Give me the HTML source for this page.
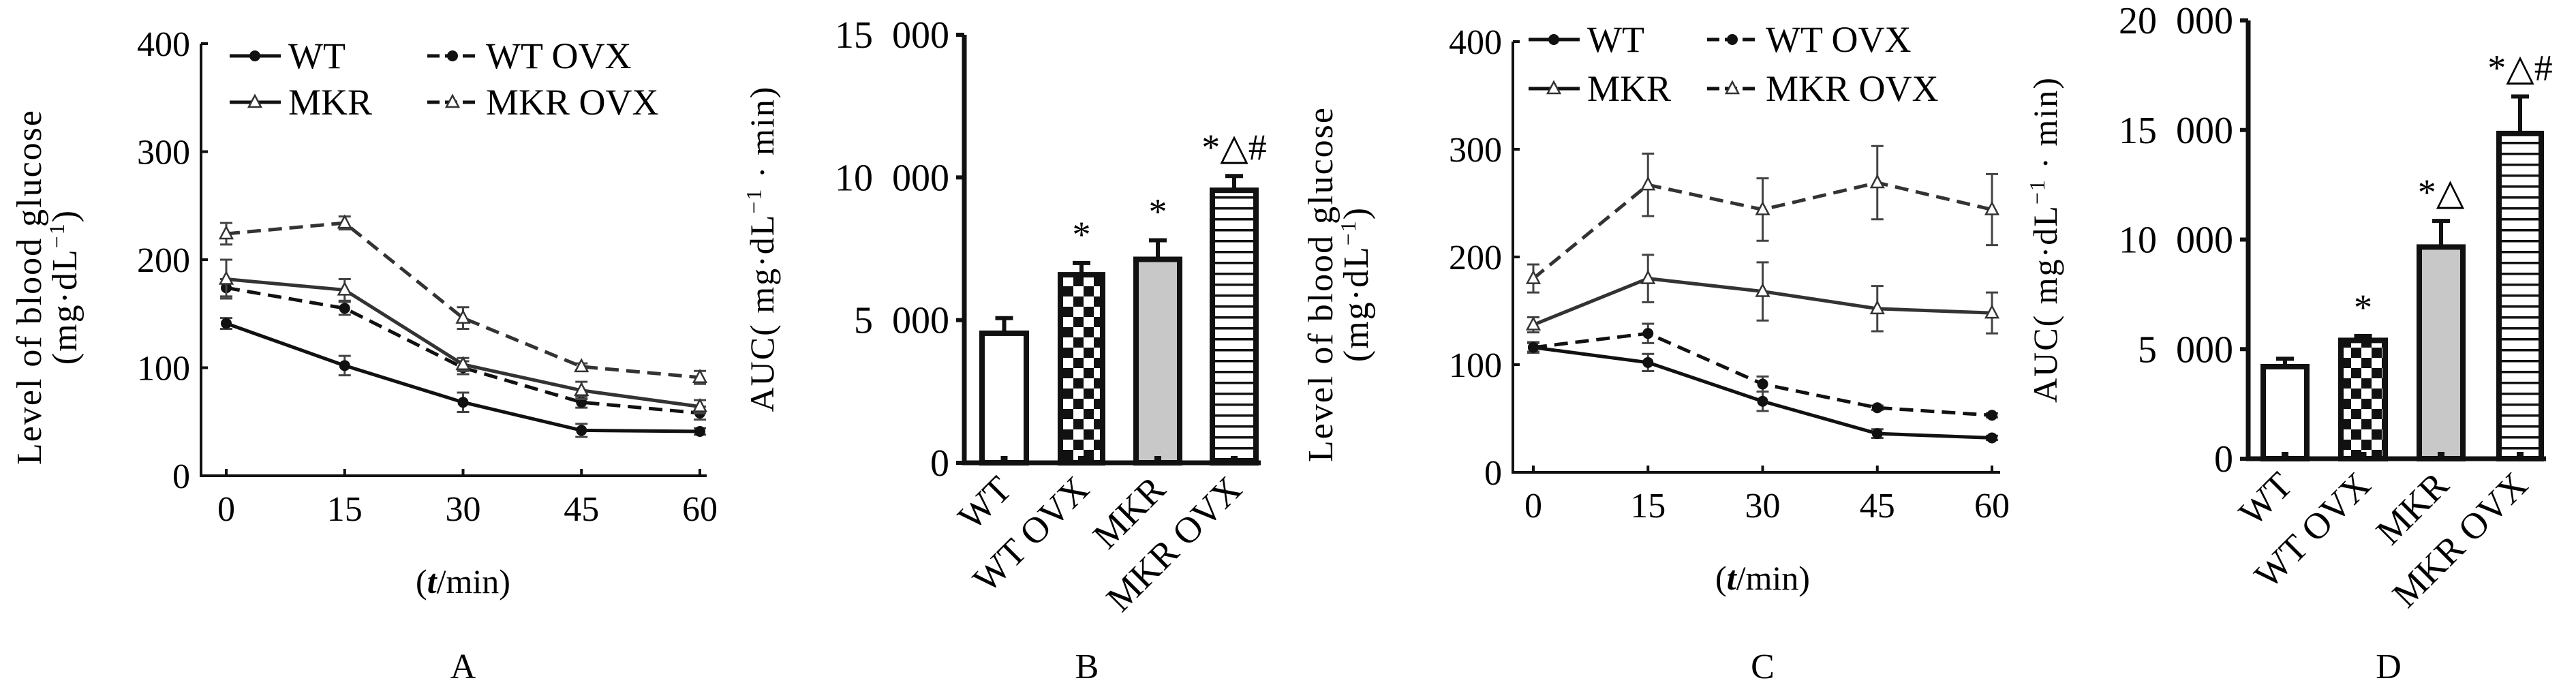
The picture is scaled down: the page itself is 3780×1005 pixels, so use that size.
<!DOCTYPE html>
<html><head><meta charset="utf-8"><style>
html,body{margin:0;padding:0;background:#fff;}
svg{display:block;font-family:"Liberation Serif",serif;}
</style></head><body>
<svg id="fig" width="3780" height="1005" viewBox="0 0 3780 1005" xmlns="http://www.w3.org/2000/svg">
<defs>
<pattern id="checker" width="30" height="30" patternUnits="userSpaceOnUse"><rect width="30" height="30" fill="#fff"/><rect width="15" height="15" fill="#111"/><rect x="15" y="15" width="15" height="15" fill="#111"/></pattern>
<pattern id="stripes" width="16" height="16" patternUnits="userSpaceOnUse"><rect width="16" height="16" fill="#fff"/><rect y="0" width="16" height="3.5" fill="#111"/></pattern>
</defs>
<g id="root"></g>
</svg>
<script>
const times=[0,15,30,45,60];
const seriesNames=["WT","WT OVX","MKR","MKR OVX"];
const aWT=[141,102,68,42,41], aWTe=[5,9,9,6,3];
const aWTO=[174,155,100,68,58], aWTOe=[8,6,6,5,6];
const aMKR=[182,172,103,79,64], aMKRe=[18,10,6,8,6];
const aMKRO=[224,234,146,101,91], aMKROe=[10,6,10,3,6];
const cWT=[116,102,66,36,32], cWTe=[5,8,9,4,2];
const cWTO=[116,129,82,60,53], cWTOe=[4,9,7,2,2];
const cMKR=[137,180,168,152,148], cMKRe=[7,22,27,21,19];
const cMKRO=[180,267,244,269,244], cMKROe=[13,29,29,34,33];
const barCats=["WT","WT OVX","MKR","MKR OVX"];
const bVals=[4540,6590,7130,9550], bErr=[530,410,670,500];
const bMarks=["","*","*","*\u25B3#"];
const dVals=[4200,5400,9660,14840], dErr=[360,200,1190,1690];
const dMarks=["","*","*\u25B3","*\u25B3#"];
const yTicksLine=[0,100,200,300,400];
const bTicks=[0,5000,10000,15000], bTickLabels=["0","5 000","10 000","15 000"];
const dTicks=[0,5000,10000,15000,20000], dTickLabels=["0","5 000","10 000","15 000","20 000"];

const NS="http://www.w3.org/2000/svg";
const root=document.getElementById('root');
function mk(tag,attrs,parent,txt){const e=document.createElementNS(NS,tag);for(const k in attrs)e.setAttribute(k,attrs[k]);if(txt!==undefined)e.textContent=txt;(parent||root).appendChild(e);return e;}

function linePanel(o){
  const g=mk('g',{});
  
  
  const sx=t=>o.x0+(t-0)/60*(o.x60-o.x0);
  const sy=v=>o.yb-(v/400)*(o.yb-o.yt);
  const ax=mk('path',{d:`M${o.ax},${o.yt} V${o.yb} H${o.axr}`,stroke:'#111','stroke-width':4,fill:'none'},g);
  
  
  yTicksLine.forEach(v=>{
    mk('line',{x1:o.ax,x2:o.ax+10,y1:sy(v),y2:sy(v),stroke:'#111','stroke-width':4},g);
    const t=mk('text',{x:o.ax-16,y:sy(v)+18,'text-anchor':'end','font-size':52},g,String(v));
    
    
  });
  times.forEach(tm=>{
    mk('line',{x1:sx(tm),x2:sx(tm),y1:o.yb,y2:o.yb-10,stroke:'#111','stroke-width':4},g);
    const t=mk('text',{x:sx(tm),y:o.yb+66,'text-anchor':'middle','font-size':52},g,String(tm));
    
    
  });
  const xt=mk('text',{x:(o.x0+o.x60)/2,y:o.yb+172,'text-anchor':'middle','font-size':50},g);
  xt.innerHTML='(<tspan font-style="italic" font-weight="bold">t</tspan>/min)';
  
  
  const yt=mk('text',{transform:`translate(${o.ylx},${(o.yt+o.yb)/2+40}) rotate(-90)`,'text-anchor':'middle','font-size':52,'letter-spacing':2},g);
  yt.innerHTML=`<tspan x="0" dy="0">Level of blood glucose</tspan><tspan x="0" dy="52">(mg·dL<tspan font-size="32" dy="-18">−1</tspan><tspan dy="18">)</tspan></tspan>`;
  
  
  const defs=[[o.d[0],o.d[1],false,'circle'],[o.d[2],o.d[3],true,'circle'],[o.d[4],o.d[5],false,'tri'],[o.d[6],o.d[7],true,'tri']];
  defs.forEach((s,i)=>{
    const sg=mk('g',{},g);
    
    
    const col=s[3]==='tri'?'#333':'#111';
    s[0].forEach((v,j)=>{
      const x=sx(times[j]),y1=sy(v+s[1][j]),y2=sy(v-s[1][j]);
      mk('path',{d:`M${x},${y1}V${y2}M${x-9},${y1}H${x+9}M${x-9},${y2}H${x+9}`,stroke:'#444','stroke-width':3,fill:'none'},sg);
    });
    const pts=s[0].map((v,j)=>sx(times[j])+','+sy(v)).join(' ');
    const pl=mk('polyline',{points:pts,fill:'none',stroke:col,'stroke-width':5,'stroke-dasharray':s[2]?'20 11':'none'},sg);
    
    
    s[0].forEach((v,j)=>marker(sg,s[3],sx(times[j]),sy(v)));
  });
  const lg=mk('g',{},g);
  
  
  const L=[[o.lx1,o.ly1,false,'circle','WT'],[o.lx2,o.ly1,true,'circle','WT OVX'],[o.lx1,o.ly2,false,'tri','MKR'],[o.lx2,o.ly2,true,'tri','MKR OVX']];
  L.forEach(l=>{
    const e=mk('g',{},lg);
    
    
    mk('line',{x1:l[0],x2:l[0]+75,y1:l[1],y2:l[1],stroke:'#111','stroke-width':5,'stroke-dasharray':l[2]?'18 8':'none'},e);
    marker(e,l[3],l[0]+37,l[1]);
    mk('text',{x:l[0]+86,y:l[1]+18,'font-size':54},e,l[4]);
  });
  const pl=mk('text',{x:(o.x0+o.x60)/2,y:995,'text-anchor':'middle','font-size':52},g,o.label);
  
  
}
function marker(p,type,x,y){
  let m;
  if(type==='circle')m=mk('circle',{cx:x,cy:y,r:8,fill:'#111'},p);
  else m=mk('path',{d:`M${x},${y-10}L${x+9},${y+7}L${x-9},${y+7}Z`,fill:'#fff',stroke:'#333','stroke-width':2.5},p);
  
  
}
function barPanel(o){
  const g=mk('g',{});
  
  
  const sy=v=>o.yb-v/o.max*(o.yb-o.yt);
  const fills=['#fff','url(#checker)','#c8c8c8','url(#stripes)'];
  o.vals.forEach((v,i)=>{
    const [l,r]=o.bars[i];const c=(l+r)/2;
    const eb=mk('path',{d:`M${c},${sy(v)}V${sy(v+o.err[i])}M${c-13},${sy(v+o.err[i])}H${c+13}`,stroke:'#111','stroke-width':6,fill:'none'},g);
    
    
    const b=mk('rect',{x:l+4,y:sy(v),width:r-l-8,height:o.yb-sy(v),fill:fills[i],stroke:'#111','stroke-width':8},g);
    
    
    mk('rect',{x:c-5,y:o.yb-10,width:10,height:10,fill:'#111'},g);
    if(o.marks[i]){const t=mk('text',{x:c,y:sy(v+o.err[i])-24,'text-anchor':'middle','font-size':54},g,o.marks[i]);
      
      }
    const t=mk('text',{transform:`translate(${c+14},${o.yb+42}) rotate(-45)`,'text-anchor':'end','font-size':54},g,barCats[i]);
    
    
  });
  const ax=mk('path',{d:`M${o.ax},${o.yt} V${o.yb} H${o.axr}`,stroke:'#111','stroke-width':7,fill:'none'},g);
  
  
  o.ticks.forEach((v,i)=>{
    mk('line',{x1:o.ax-12,x2:o.ax,y1:sy(v),y2:sy(v),stroke:'#111','stroke-width':6},g);
    const t=mk('text',{x:o.ax-22,y:sy(v)+19,'text-anchor':'end','font-size':56,'word-spacing':14},g,o.tickLabels[i]);
    
    
  });
  const yt=mk('text',{transform:`translate(${o.ylx},${(o.yt+o.yb)/2}) rotate(-90)`,'text-anchor':'middle','font-size':50,'letter-spacing':2},g);
  yt.innerHTML='AUC( mg·dL<tspan font-size="32" dy="-18">−1</tspan><tspan dy="18"> · min)</tspan>';
  
  
  const pl=mk('text',{x:o.plx,y:995,'text-anchor':'middle','font-size':52},g,o.label);
  
  
}
linePanel({name:'panel-a',label:'A',ax:295,axr:1037,x0:332,x60:1027,yt:64,yb:698,ylx:60,
  d:[aWT,aWTe,aWTO,aWTOe,aMKR,aMKRe,aMKRO,aMKROe],lx1:337,lx2:627,ly1:82,ly2:150});
barPanel({name:'panel-b',label:'B',ax:1415,axr:1850,yt:51,yb:679,max:15000,ticks:bTicks,tickLabels:bTickLabels,
  vals:bVals,err:bErr,marks:bMarks,bars:[[1437,1510],[1552,1622],[1663,1735],[1775,1847]],ylx:1135,plx:1595});
linePanel({name:'panel-c',label:'C',ax:2220,axr:2935,x0:2250,x60:2923,yt:61,yb:693,ylx:1955,
  d:[cWT,cWTe,cWTO,cWTOe,cMKR,cMKRe,cMKRO,cMKROe],lx1:2243,lx2:2505,ly1:58,ly2:130});
barPanel({name:'panel-d',label:'D',ax:3299,axr:3736,yt:30,yb:673,max:20000,ticks:dTicks,tickLabels:dTickLabels,
  vals:dVals,err:dErr,marks:dMarks,bars:[[3317,3389],[3431,3504],[3546,3618],[3663,3733]],ylx:3018,plx:3505});
</script>
</body></html>
